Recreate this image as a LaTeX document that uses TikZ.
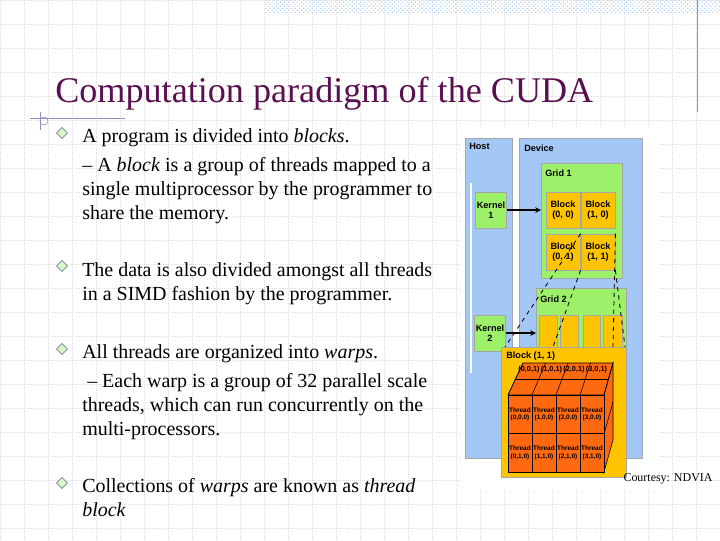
\documentclass[tikz,border=0pt]{standalone}
\usepackage{fontspec}
\setmainfont{Liberation Serif}
\setsansfont{Liberation Sans}
\usetikzlibrary{positioning, shapes.geometric, patterns}

\definecolor{titlepurple}{HTML}{5A1050}
\definecolor{hostblue}{HTML}{A3C8F5}
\definecolor{gridgreen}{HTML}{9CF06A}
\definecolor{blockorange}{HTML}{FFC400}
\definecolor{threadorange}{HTML}{FF6A10}
\definecolor{bulletblue}{HTML}{6060A0}

\begin{document}
\begin{tikzpicture}[x=0.025cm, y=-0.025cm,
txt/.style={anchor=base west, inner sep=0pt, font=\fontsize{14.2}{16}\selectfont},
bul/.style={diamond, draw=bulletblue, fill=gridgreen!40, inner sep=0pt, minimum size=8pt},
panel/.style={draw=gray!70, fill=hostblue},
gridbox/.style={draw=gray!70, fill=gridgreen},
blk/.style={draw=gray!70, fill=blockorange, align=center, font=\sffamily\bfseries\fontsize{6.5}{7.5}\selectfont},
thr/.style={draw=black, fill=threadorange, align=center, font=\sffamily\bfseries\fontsize{4.6}{5.5}\selectfont, inner sep=0pt},
lab/.style={font=\sffamily\bfseries\fontsize{6.5}{7.5}\selectfont, anchor=north west, inner sep=0pt},
path/.style={->, >=stealth, thick},
link/.style={dashed, semithick}
]
\useasboundingbox (0,0) rectangle (720,540);

% slide background
\draw[gray!25, densely dotted, step=0.6cm] (0,0) grid (720,540);
\fill[pattern=crosshatch dots, pattern color=hostblue] (265,0) rectangle (720,12);
\draw[bulletblue!70] (697,0) -- (697,112);
\draw[bulletblue!70] (30,118) -- (125,118);
\draw[bulletblue!70] (40,112) -- (40,130);
\draw[bulletblue!70] (44,121) circle (4);

% title and text
\node[anchor=base west, inner sep=0pt, text=titlepurple, font=\fontsize{25.7}{29}\selectfont] (title) at (55,102) {Computation paradigm of the CUDA};

\foreach \y in {133,266,349,483} \node[bul] at (62,\y) {};
\node[txt] (l1) at (82,142) {A program is divided into \textit{blocks}.};
\node[txt] (l2) at (82,171) {-- A \textit{block} is a group of threads mapped to a};
\node[txt] (l3) at (82,195) {single multiprocessor by the programmer to};
\node[txt] (l4) at (82,219) {share the memory.};
\node[txt] (l5) at (82,276) {The data is also divided amongst all threads};
\node[txt] (l6) at (82,300) {in a SIMD fashion by the programmer.};
\node[txt] (l7) at (82,358) {All threads are organized into \textit{warps}.};
\node[txt] (l8) at (82,387) {\ -- Each warp is a group of 32 parallel scale};
\node[txt] (l9) at (82,411) {threads, which can run concurrently on the};
\node[txt] (l10) at (82,435) {multi-processors.};
\node[txt] (l11) at (82,492) {Collections of \textit{warps} are known as \textit{thread}};
\node[txt] (l12) at (82,516) {\textit{block}};

% host and device
\fill[white] (460,128) rectangle (660,490);
\draw[panel] (465,138) rectangle (512,458);
\draw[panel] (519,138) rectangle (642,458);
\draw[white, line width=1pt] (471,183) -- (471,373);
\node[lab] (host) at (469,143) {Host};
\node[lab] (device) at (524,145) {Device};

\node[blk, gridbox, minimum width=0.72cm, minimum height=0.9cm, inner sep=1pt] (k1) at (491,210) {Kernel\\1};
\node[blk, gridbox, minimum width=0.72cm, minimum height=0.9cm, inner sep=1pt] (k2) at (490,333) {Kernel\\2};

% grid 1
\draw[gridbox] (541,163) rectangle (622,278);
\node[lab] (g1) at (545,170) {Grid 1};
\node[blk, minimum width=0.8cm, minimum height=0.9cm] (b00) at (563,210) {Block\\(0, 0)};
\node[blk, minimum width=0.78cm, minimum height=0.9cm] (b10) at (598,210) {Block\\(1, 0)};
\node[blk, minimum width=0.8cm, minimum height=0.9cm] (b01) at (563,252) {Block\\(0, 1)};
\node[blk, minimum width=0.78cm, minimum height=0.9cm] (b11) at (598,252) {Block\\(1, 1)};

% grid 2
\draw[gridbox] (536,288) rectangle (626,360);
\node[lab] (g2) at (540,296) {Grid 2};
\foreach \x/\w in {539/557, 560/578, 583/600, 603/622}
  \fill[blockorange, draw=gray!70] (\x,315) rectangle (\w,360);

\draw[path] (k1) -- (541,210);
\draw[path] (k2) -- (536,333);

% block (1,1) zoomed
\draw[gray!70, fill=blockorange] (501,347) rectangle (626,477);
\node[lab] (big) at (506,352) {Block (1, 1)};
\draw[link] (b11.north west) -- (505,347);
\draw[link] (b11.south west) -- (553,347);
\draw[link] (b11.north east) -- (613,347);
\draw[link] (b11.south east) -- (625,347);

% thread cube: top and side faces
\fill[threadorange, draw=black] (508,395) -- (523,363) -- (613,363) -- (604,395) -- cycle;
\fill[threadorange, draw=black] (604,395) -- (613,363) -- (613,440) -- (604,472) -- cycle;
\draw (515,379) -- (608,379);
\foreach \i in {0,1,2,3,4}
  \draw ({508+24*\i},395) -- ({523+22.5*\i},363);
\draw (604,434) -- (613,402);
\foreach \i/\s in {0/{(0,0,1)},1/{(1,0,1)},2/{(2,0,1)},3/{(3,0,1)}}
  \node[thr, fill=none, draw=none, font=\sffamily\bfseries\fontsize{5.2}{6}\selectfont] at ({529+22.5*\i},370) {\s};
% thread cube: front face
\foreach \i in {0,1,2,3}
  \foreach \j in {0,1}
    \node[thr, minimum width=0.6cm, minimum height=0.9625cm] (t\i\j) at ({520+24*\i},{414.25+38.5*\j}) {Thread\\(\i,\j,0)};

\node[anchor=base, inner sep=0pt, font=\fontsize{8.5}{10}\selectfont] (court) at (668,481) {Courtesy: NDVIA};
\end{tikzpicture}
\end{document}
